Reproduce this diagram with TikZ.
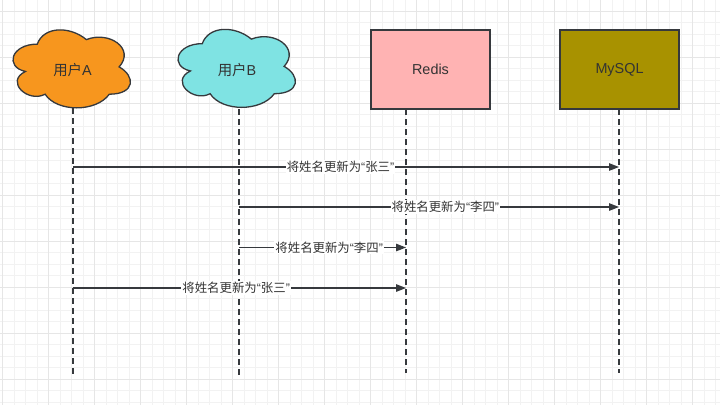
\documentclass[tikz,border=0pt]{standalone}
\usepackage{fontspec}
\setmainfont{Liberation Sans}
\newfontfamily\cjk{Noto Sans CJK SC}
\usetikzlibrary{arrows.meta}
\definecolor{ink}{HTML}{333333}
\definecolor{edge}{HTML}{36393D}
\definecolor{gminor}{HTML}{F2F2F2}
\definecolor{gmajor}{HTML}{E6E6E6}
\definecolor{orangeA}{HTML}{F7961E}
\definecolor{cyanB}{HTML}{7FE3E3}
\definecolor{redisfill}{HTML}{FFB3B3}
\definecolor{mysqlfill}{HTML}{A89200}
\tikzset{
  shapeline/.style={draw=edge, line width=1.3pt},
  boxstyle/.style={shapeline, rectangle, minimum width=119pt, minimum height=79pt, inner sep=0pt},
  nodetext/.style={text=ink, font=\fontsize{14.4}{16}\selectfont, inner sep=0pt},
  lifeline/.style={draw=edge, line width=1.3pt, dash pattern=on 6pt off 4pt},
  msg/.style={draw=edge, line width=1.3pt, -{Triangle[length=10pt,width=7.5pt]}},
  msglabel/.style={fill=white, text=ink, font=\fontsize{12.4}{14}\selectfont, inner sep=1pt},
}
\newcommand{\drawcloud}[3]{%
  \begin{scope}[shift={(#1,#2)}, x=131pt, y=-91pt]
    \path[shapeline, fill=#3] (0.25,0.25)
      .. controls (0.05,0.25) and (0,0.5) .. (0.16,0.55)
      .. controls (0,0.66) and (0.18,0.9) .. (0.31,0.8)
      .. controls (0.4,1) and (0.7,1) .. (0.8,0.8)
      .. controls (1,0.8) and (1,0.6) .. (0.875,0.5)
      .. controls (1,0.3) and (0.8,0.1) .. (0.625,0.2)
      .. controls (0.5,0.05) and (0.3,0.05) .. (0.25,0.25) -- cycle;
  \end{scope}}
\begin{document}
\begin{tikzpicture}[x=1pt, y=-1pt]
\useasboundingbox (0,0) rectangle (720,405);
\fill[white] (0,0) rectangle (720,405);
% grid
\foreach \i in {0,...,62} \draw[gminor, line width=0.8pt] ({2.7+11.5*\i},0) -- ({2.7+11.5*\i},405);
\foreach \i in {0,...,34} \draw[gminor, line width=0.8pt] (0,{11.3+11.5*\i}) -- (720,{11.3+11.5*\i});
\foreach \i in {0,...,15} \draw[gmajor, line width=0.8pt] ({2.7+46*\i},0) -- ({2.7+46*\i},405);
\foreach \i in {0,...,8} \draw[gmajor, line width=0.8pt] (0,{11.3+46*\i}) -- (720,{11.3+46*\i});

% participants
\drawcloud{4.5}{21.4}{orangeA}
\drawcloud{169.5}{20.9}{cyanB}
\node[nodetext] (ua) at (72.5,70) {{\cjk 用户}A};
\node[nodetext] (ub) at (237,70) {{\cjk 用户}B};
\node[boxstyle, fill=redisfill] (redis) at (430.5,69.5) {};
\node[nodetext] (redist) at (redis.center) {Redis};
\node[boxstyle, fill=mysqlfill] (mysql) at (619.5,69.5) {};
\node[nodetext] (mysqlt) at (mysql.center) {MySQL};

% lifeline anchors
\coordinate (ua-top) at (73,108);
\coordinate (ua-bot) at (73,375);
\coordinate (ub-top) at (239,109);
\coordinate (ub-bot) at (239,375);
\coordinate (re-top) at (406,109);
\coordinate (re-bot) at (406,373);
\coordinate (my-top) at (619,109);
\coordinate (my-bot) at (619,373);
\draw[lifeline] (ua-top) -- (ua-bot);
\draw[lifeline] (ub-top) -- (ub-bot);
\draw[lifeline] (re-top) -- (re-bot);
\draw[lifeline] (my-top) -- (my-bot);

% message points
\coordinate (a1) at (73,167);   \coordinate (m1) at (619,167);
\coordinate (b2) at (239,207);  \coordinate (m2) at (619,207);
\coordinate (b3) at (239,247.5);\coordinate (r3) at (406,247.5);
\coordinate (a4) at (73,288);   \coordinate (r4) at (406,288);

\draw[msg] (a1) -- (m1) node[msglabel, pos=0.49] (l1) {{\cjk 将姓名更新为}“{\cjk 张三}”};
\draw[msg] (b2) -- (m2) node[msglabel, pos=0.543] (l2) {{\cjk 将姓名更新为}“{\cjk 李四}”};
\draw[msg] (b3) -- (r3) node[msglabel, pos=0.54] (l3) {{\cjk 将姓名更新为}“{\cjk 李四}”};
\draw[msg] (a4) -- (r4) node[msglabel, pos=0.49] (l4) {{\cjk 将姓名更新为}“{\cjk 张三}”};
\end{tikzpicture}
\end{document}
